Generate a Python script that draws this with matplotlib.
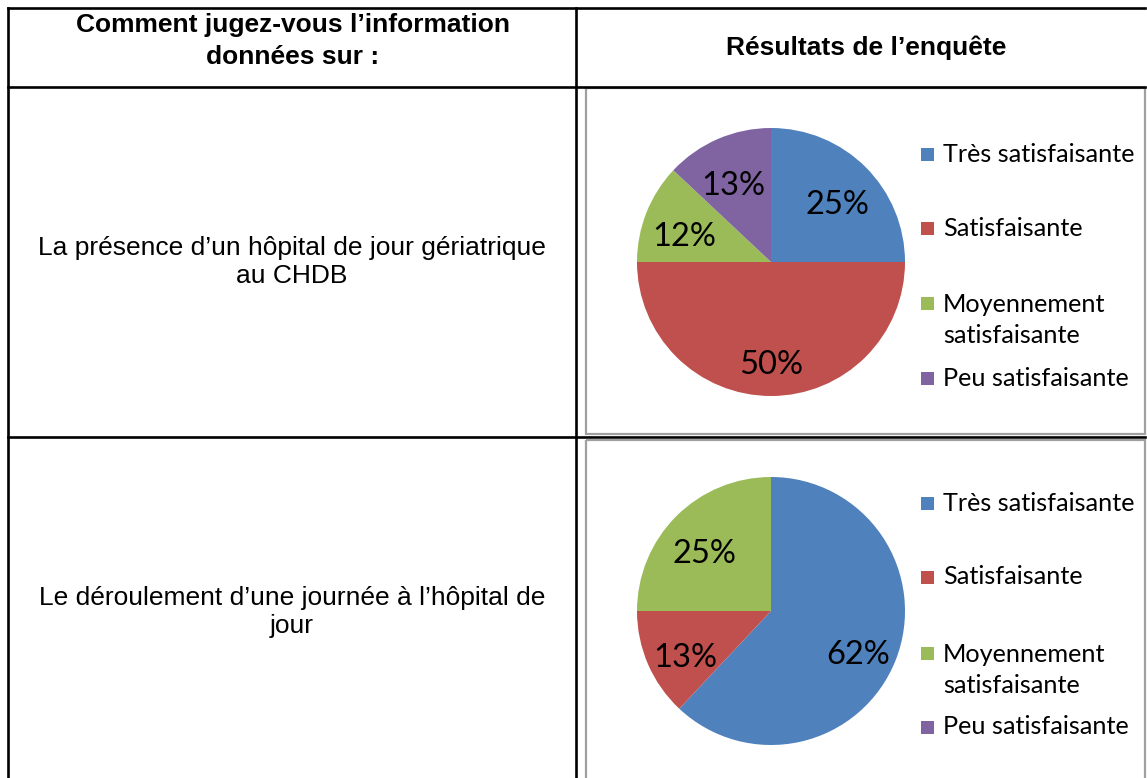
import matplotlib
matplotlib.use("Agg")
import matplotlib.pyplot as plt
from matplotlib.patches import Rectangle

# ---- data ----
categories = ["Très satisfaisante", "Satisfaisante", "Moyennement\nsatisfaisante", "Peu satisfaisante"]
colors = ["#4F81BD", "#C0504D", "#9BBB59", "#8064A2"]
chart1_values = [25, 50, 12, 13]
chart2_values = [62, 13, 25, 0]
header_left = "Comment jugez-vous l’information\ndonnées sur :"
header_right = "Résultats de l’enquête"
row_labels = ["La présence d’un hôpital de jour gériatrique\nau CHDB",
              "Le déroulement d’une journée à l’hôpital de\njour"]

W, H = 1147, 778
fig = plt.figure(figsize=(W / 100, H / 100), dpi=100)
fig.patch.set_facecolor("white")

ov = fig.add_axes([0, 0, 1, 1])
ov.set_xlim(0, W)
ov.set_ylim(H, 0)
ov.axis("off")

# chart frames (gray)
for (y0, y1) in [(88, 434), (440, 795)]:
    ov.add_patch(Rectangle((586, y0), 559, y1 - y0, fill=False, edgecolor="#A0A0A0", lw=1.6, zorder=1))

# table lines
lw = 1.9
ov.plot([8, 1145], [8, 8], color="black", lw=lw)
ov.plot([8, 1145], [87, 87], color="black", lw=lw)
ov.plot([8, 1145], [437, 437], color="black", lw=lw, zorder=0.5)
ov.plot([8, 8], [8, H], color="black", lw=lw)
ov.plot([576, 576], [8, H], color="black", lw=lw)

arial = "Liberation Sans"
ov.text(293, 41, header_left, ha="center", va="center", fontsize=19, fontweight="bold",
        family=arial, linespacing=1.4)
ov.text(866, 48, header_right, ha="center", va="center", fontsize=19, fontweight="bold", family=arial)
ov.text(292, 262, row_labels[0], ha="center", va="center", fontsize=19, family=arial, linespacing=1.2)
ov.text(292, 612, row_labels[1], ha="center", va="center", fontsize=19, family=arial, linespacing=1.2)

calibri = "Lato"
R = 134


def draw_pie(cx, cy, values):
    ax = fig.add_axes([(cx - R) / W, 1 - (cy + R) / H, 2 * R / W, 2 * R / H])
    _, _, autotexts = ax.pie(values, colors=colors, startangle=90, counterclock=False, radius=1,
                             autopct=lambda p: f"{p:.0f}%" if p > 0 else "", pctdistance=0.7,
                             wedgeprops=dict(linewidth=0),
                             textprops=dict(fontsize=23.5, family=calibri, color="black",
                                            va="center_baseline"))
    for t in autotexts:
        x, y = t.get_position()
        t.set_position((x, y - 0.05))
    ax.set_xlim(-1, 1)
    ax.set_ylim(-1, 1)
    ax.set_aspect("auto")
    ax.axis("off")


def draw_legend(ys):
    for lab, col, y in zip(categories, colors, ys):
        nlines = lab.count("\n") + 1
        ov.add_patch(Rectangle((921, y - 7), 13, 13, facecolor=col, edgecolor="none"))
        ov.text(943, y - 1 + (nlines - 1) * 17, lab, ha="left", va="center", fontsize=18.2,
                family=calibri, linespacing=1.45)


draw_pie(771, 262, chart1_values)
draw_legend([155, 229, 304, 379])
draw_pie(771, 611, chart2_values)
draw_legend([504, 578, 654, 728])

fig.savefig("out.png", dpi=100)
